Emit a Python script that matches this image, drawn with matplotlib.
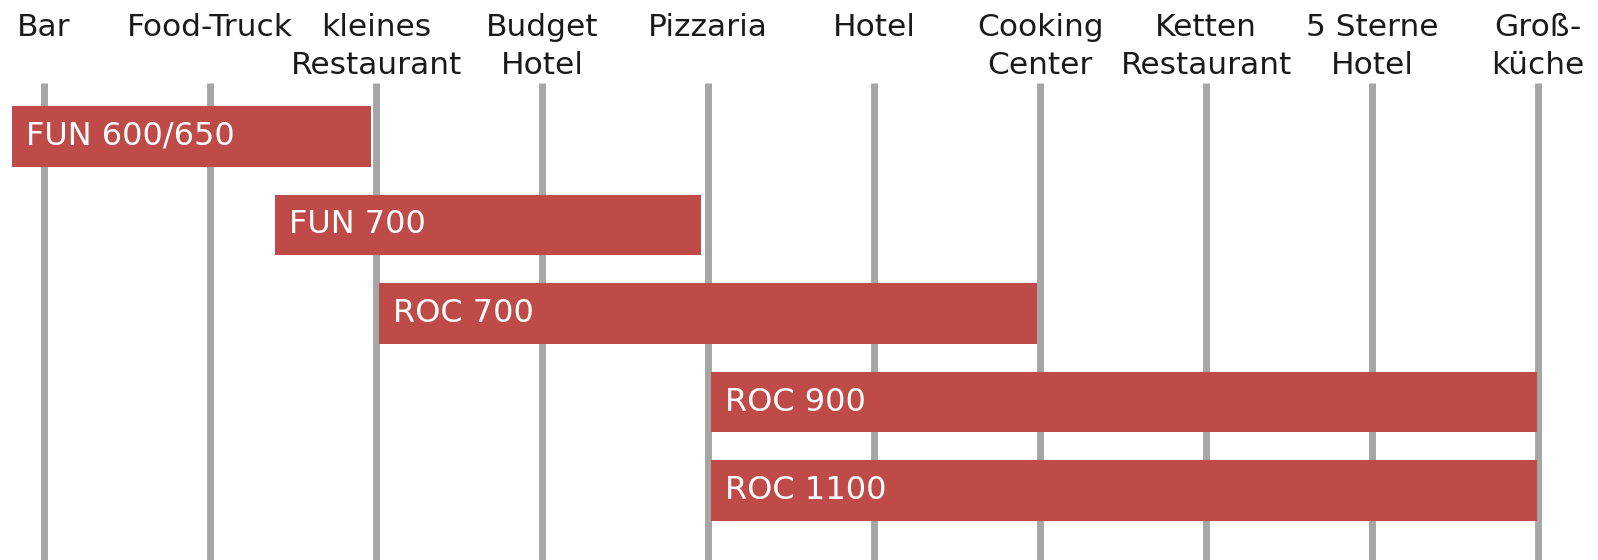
import numpy as np
import matplotlib.pyplot as plt

# venue types along the top (one gray line each)
venues = ['Bar', 'Food-Truck', 'kleines\nRestaurant', 'Budget\nHotel', 'Pizzaria',
          'Hotel', 'Cooking\nCenter', 'Ketten\nRestaurant', '5 Sterne\nHotel', 'Groß-\nküche']

# product ranges: start / end position on the venue scale
products = ['FUN 600/650', 'FUN 700', 'ROC 700', 'ROC 900', 'ROC 1100']
starts = [-0.19, 1.39, 2.02, 4.02, 4.02]
ends = [1.97, 3.96, 5.98, 8.99, 8.99]

fig = plt.figure(figsize=(15.98, 5.6), dpi=100)
ax = fig.add_axes([0, 0, 1, 1])

xpos = np.arange(len(venues))
ax.vlines(xpos, -0.6, 4.9, color='#a6a6a6', linewidth=5.0, zorder=1)

rows = np.arange(len(products))
widths = np.array(ends) - np.array(starts)
ax.barh(rows, widths, left=starts, height=0.68, color='#be4b48', zorder=2)

for r, s, name in zip(rows, starts, products):
    ax.annotate(name, (s, r), xytext=(14, 0), textcoords='offset pixels',
                color='white', fontsize=23, va='center', ha='left', zorder=3)

for x, v in zip(xpos, venues):
    ax.text(x, 1 - 13 / 560, v, transform=ax.get_xaxis_transform(),
            ha='center', va='top', fontsize=22.5, color='#1a1a1a',
            linespacing=1.38, multialignment='center')

ax.set_xlim(-0.265, 9.36)
ax.set_ylim(4.785, -1.542)
ax.axis('off')

fig.savefig('out.png', dpi=100, facecolor='white')
